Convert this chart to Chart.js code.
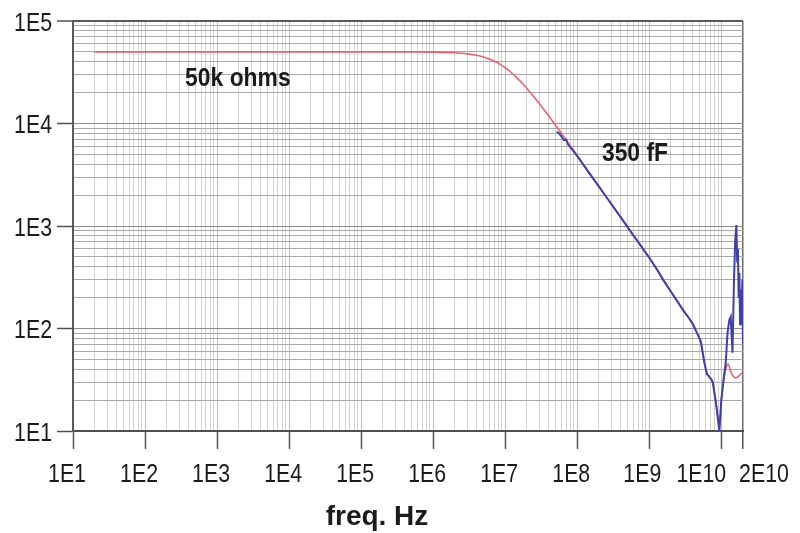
<!DOCTYPE html>
<html><head><meta charset="utf-8">
<script src="https://cdn.jsdelivr.net/npm/chart.js@4.4.1/dist/chart.umd.min.js"></script>
<style>html,body{margin:0;padding:0;background:#fff;}canvas{display:block;}</style>
</head><body>
<canvas id="c" width="800" height="533"></canvas>
<script>
// ---- data ----
const xTickValues = [1e1, 1e2, 1e3, 1e4, 1e5, 1e6, 1e7, 1e8, 1e9, 1e10, 2e10];
const xTickLabels = ['1E1', '1E2', '1E3', '1E4', '1E5', '1E6', '1E7', '1E8', '1E9', '1E10', '2E10'];
const yTickValues = [1e1, 1e2, 1e3, 1e4, 1e5];
const yTickLabels = ['1E1', '1E2', '1E3', '1E4', '1E5'];
const axisTitle = 'freq. Hz';

// model curve (red)
const redFreq = [20, 1e2, 1e3, 1e4, 1e5, 5e5, 1e6, 2e6, 3e6, 4e6, 5e6, 6e6, 7e6, 8.5e6, 1e7, 1.2e7, 1.4e7, 1.7e7, 2e7, 2.5e7,
  3e7, 4e7, 5e7, 6e7, 8e7, 1e8, 1.3e8, 1.6e8, 2e8, 3e8, 5e8, 7e8, 1e9, 1.3e9, 1.6e9, 2e9, 2.5e9, 3e9, 3.5e9, 4e9,
  4.6e9, 5.2e9, 5.8e9, 6.3e9, 7e9, 7.6e9, 8.5e9, 9.4e9, 1.0e10, 1.07e10, 1.15e10, 1.25e10, 1.35e10, 1.47e10, 1.6e10, 1.8e10, 2e10];
const redZ = [50000, 50000, 50000, 50000, 50000, 49950, 49740, 48990, 47810, 46290, 44540, 42640, 40690, 37770, 35000, 31620, 28680, 24960, 22000, 18250,
  15520, 11900, 9620, 8060, 6080, 4880, 3760, 3055, 2445, 1630, 980, 700, 490, 370, 292, 230, 182, 150, 129, 112,
  91, 72, 47, 37, 33, 30, 18, 11, 20, 30, 40, 45, 38, 34, 33, 35, 38];

// measured curve (blue)
const blueFreq = [5.2e7, 5.6e7, 6e7, 6.5e7, 7e7, 7.5e7, 8.5e7, 1e8, 1.2e8, 1.5e8, 2e8, 2.5e8, 3e8, 4e8, 5e8, 6e8, 7e8, 8.5e8, 1e9,
  1.3e9, 1.6e9, 2e9, 2.5e9, 3e9, 3.5e9, 4e9, 4.6e9, 5.2e9, 5.8e9, 6.3e9, 7e9, 7.6e9, 8.5e9, 9.4e9,
  1.0e10, 1.07e10, 1.15e10, 1.22e10, 1.29e10, 1.35e10, 1.43e10, 1.5e10, 1.56e10, 1.62e10, 1.66e10, 1.70e10, 1.74e10,
  1.78e10, 1.82e10, 1.87e10, 1.92e10, 1.96e10, 2e10];
const blueZ = [8300, 8000, 7500, 6900, 6950, 6200, 5600, 4800, 4000, 3200, 2420, 1940, 1620, 1220, 975, 810, 700, 575, 490,
  370, 290, 228, 180, 148, 128, 111, 90, 75, 47, 36, 33, 30, 18, 10,
  20, 31, 46, 90, 121, 130, 58, 300, 730, 1020, 450, 600, 200,
  350, 110, 240, 150, 300, 70];

// annotations (text, anchored in data coordinates)
const noteTexts = ['50k ohms', '350 fF'];
const noteFreq = [360, 2.2e8];
const noteZ = [23200, 4300];

// ---- styling ----
const SANS = "'Liberation Sans', Arimo, Arial, sans-serif";
const NARROW_SCALE = 0.82;
const xLabelShift = [-6, -6, -6, -6, -6, -6, -6, -6, -7, -20, 21];

function inList(v, list) { return list.some(t => Math.abs(t - v) / t < 1e-6); }
function gridValues(minExp, maxExp, extra) {
  const out = [];
  for (let e = minExp; e < maxExp; e++) for (let m = 1; m <= 9; m++) out.push(m * Math.pow(10, e));
  out.push(Math.pow(10, maxExp));
  extra.forEach(v => out.push(v));
  return out;
}
const xGrid = gridValues(1, 10, [2e10]);
const yGrid = gridValues(1, 5, []);

const toPts = (xs, ys) => xs.map((f, i) => ({x: f, y: ys[i]}));

function squeezedText(ctx, text, x, y, sx) {
  ctx.save();
  ctx.translate(x, y);
  ctx.scale(sx, 1);
  ctx.fillText(text, 0, 0);
  ctx.restore();
}

const textPlugin = {
  id: 'texts',
  afterDraw(chart) {
    const {ctx, scales: {x, y}, chartArea} = chart;
    ctx.save();
    ctx.fillStyle = '#1b1b1b';
    ctx.textBaseline = 'alphabetic';
    ctx.font = '26px ' + SANS;
    // x tick labels
    ctx.textAlign = 'center';
    xTickValues.forEach((v, i) => {
      squeezedText(ctx, xTickLabels[i], x.getPixelForValue(v) + xLabelShift[i], chartArea.bottom + 51, NARROW_SCALE);
    });
    // y tick labels
    ctx.textAlign = 'right';
    yTickValues.forEach((v, i) => {
      squeezedText(ctx, yTickLabels[i], chartArea.left - 21, y.getPixelForValue(v) + 9.5, NARROW_SCALE);
    });
    // axis title
    ctx.textAlign = 'center';
    ctx.font = 'bold 28px ' + SANS;
    ctx.fillText(axisTitle, (chartArea.left + chartArea.right) / 2 - 31, chartArea.bottom + 94);
    // annotations
    ctx.textAlign = 'left';
    ctx.font = 'bold 26px ' + SANS;
    noteTexts.forEach((t, i) => {
      squeezedText(ctx, t, x.getPixelForValue(noteFreq[i]), y.getPixelForValue(noteZ[i]), 0.88);
    });
    ctx.restore();
  }
};

new Chart(document.getElementById('c'), {
  type: 'line',
  data: {
    datasets: [
      {
        label: 'measured',
        data: toPts(blueFreq, blueZ),
        borderColor: '#4040ac',
        borderWidth: 2,
        pointRadius: 0,
        tension: 0,
        order: 0
      },
      {
        label: 'model',
        data: toPts(redFreq, redZ),
        borderColor: '#e4646e',
        borderWidth: 1.6,
        pointRadius: 0,
        cubicInterpolationMode: 'monotone',
        order: 1
      }
    ]
  },
  options: {
    responsive: false,
    animation: false,
    devicePixelRatio: 1,
    layout: {padding: {top: 21, right: 57, bottom: 0, left: 0}},
    plugins: {legend: {display: false}, tooltip: {enabled: false}},
    scales: {
      x: {
        type: 'logarithmic',
        min: 10,
        max: 2e10,
        afterBuildTicks: s => { s.ticks = xGrid.map(v => ({value: v})); },
        afterFit: s => { s.height = 102; },
        ticks: {display: false, autoSkip: false},
        border: {color: '#505050', width: 2},
        grid: {
          color: c => {
            const v = c.tick.value;
            if (Math.abs(v - 2e10) < 1) return '#6a6a6a';
            return inList(v, xTickValues) ? '#c0c0c0' : '#d2d2d2';
          },
          lineWidth: c => (Math.abs(c.tick.value - 2e10) < 1 ? 1.5 : 1),
          tickColor: c => (inList(c.tick.value, xTickValues) ? '#505050' : 'rgba(0,0,0,0)'),
          tickLength: 18,
          tickWidth: 1.5,
          drawTicks: true
        }
      },
      y: {
        type: 'logarithmic',
        min: 10,
        max: 1e5,
        afterBuildTicks: s => { s.ticks = yGrid.map(v => ({value: v})); },
        afterFit: s => { s.width = 73; },
        ticks: {display: false, autoSkip: false},
        border: {color: '#5a5a5a', width: 2},
        grid: {
          color: c => {
            const v = c.tick.value;
            if (Math.abs(v - 1e5) < 1) return '#5a5a5a';
            return inList(v, yTickValues) ? '#8c8c8c' : '#a9a9a9';
          },
          lineWidth: c => (Math.abs(c.tick.value - 1e5) < 1 ? 2 : 1),
          tickColor: c => (inList(c.tick.value, yTickValues) ? '#505050' : 'rgba(0,0,0,0)'),
          tickLength: 16,
          tickWidth: 1.5
        }
      }
    }
  },
  plugins: [textPlugin]
});
</script>
</body></html>
